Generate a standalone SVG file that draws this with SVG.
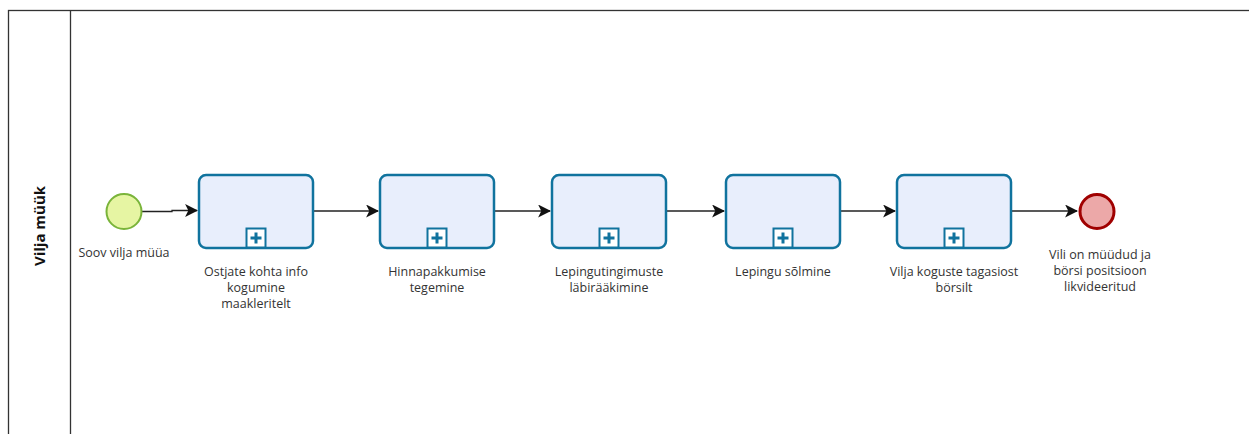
<svg xmlns="http://www.w3.org/2000/svg" width="1249" height="434" viewBox="0 0 1249 434">
<style>
.pool{fill:#fff;stroke:#333;stroke-width:1.3}
.task{fill:#e8eefc;stroke:#10739e;stroke-width:2.5}
.plus{fill:#fff;stroke:#10739e;stroke-width:2}
.lbl{font-family:"Open Sans","Noto Sans",sans-serif;font-size:12.5px;fill:#333;text-anchor:middle}
.flow{fill:none;stroke:#222;stroke-width:1.3}
</style>
<defs>
<marker id="arr" viewBox="0 0 12 12" refX="11" refY="6" markerWidth="13" markerHeight="13" markerUnits="userSpaceOnUse" orient="auto">
<path d="M0,0 L12,6 L0,12 L3,6 Z" fill="#111"/>
</marker>
<g id="pm"><rect class="plus" x="-9.5" y="0" width="19" height="19"/><path d="M-5.5,9.5 H5.5 M0,4 V15" stroke="#10739e" stroke-width="3"/></g>
</defs>
<g id="pool">
<rect class="pool" x="8.5" y="10.5" width="1260" height="440"/>
<line x1="70.5" y1="10.5" x2="70.5" y2="440" stroke="#333" stroke-width="1.3"/>
<text transform="translate(45,226) rotate(-90)" font-family="'Open Sans','Noto Sans',sans-serif" font-size="15" font-weight="bold" fill="#111" text-anchor="middle">Vilja müük</text>
</g>
<g id="connectors">
<polyline class="flow" points="142,211.5 172,211.5 172,210.5 197,210.5" marker-end="url(#arr)"/>
<line class="flow" x1="313" y1="211" x2="378" y2="211" marker-end="url(#arr)"/>
<line class="flow" x1="494" y1="211" x2="550" y2="211" marker-end="url(#arr)"/>
<line class="flow" x1="666" y1="211" x2="724" y2="211" marker-end="url(#arr)"/>
<line class="flow" x1="840" y1="211" x2="895" y2="211" marker-end="url(#arr)"/>
<line class="flow" x1="1011" y1="211" x2="1077" y2="211" marker-end="url(#arr)"/>
</g>
<g id="start">
<circle cx="124" cy="211.5" r="17.5" fill="#e6f5a3" stroke="#7ab43a" stroke-width="2"/>
<text class="lbl" x="124" y="257">Soov vilja müüa</text>
</g>
<g id="task1">
<rect class="task" x="199" y="175" width="114" height="73" rx="7"/>
<use href="#pm" x="256" y="228.5"/>
<text class="lbl" x="256" y="276">Ostjate kohta info</text>
<text class="lbl" x="256" y="292">kogumine</text>
<text class="lbl" x="256" y="308">maakleritelt</text>
</g>
<g id="task2">
<rect class="task" x="380" y="175" width="114" height="73" rx="7"/>
<use href="#pm" x="437" y="228.5"/>
<text class="lbl" x="437" y="276">Hinnapakkumise</text>
<text class="lbl" x="437" y="292">tegemine</text>
</g>
<g id="task3">
<rect class="task" x="552" y="175" width="114" height="73" rx="7"/>
<use href="#pm" x="609" y="228.5"/>
<text class="lbl" x="609" y="276">Lepingutingimuste</text>
<text class="lbl" x="609" y="292">läbirääkimine</text>
</g>
<g id="task4">
<rect class="task" x="726" y="175" width="114" height="73" rx="7"/>
<use href="#pm" x="783" y="228.5"/>
<text class="lbl" x="783" y="276">Lepingu sõlmine</text>
</g>
<g id="task5">
<rect class="task" x="897" y="175" width="114" height="73" rx="7"/>
<use href="#pm" x="954" y="228.5"/>
<text class="lbl" x="954" y="276">Vilja koguste tagasiost</text>
<text class="lbl" x="954" y="292">börsilt</text>
</g>
<g id="end">
<circle cx="1097" cy="211.5" r="17" fill="#eca8a8" stroke="#a00000" stroke-width="3"/>
<text class="lbl" x="1100" y="259">Vili on müüdud ja</text>
<text class="lbl" x="1100" y="275">börsi positsioon</text>
<text class="lbl" x="1100" y="291">likvideeritud</text>
</g>
</svg>
